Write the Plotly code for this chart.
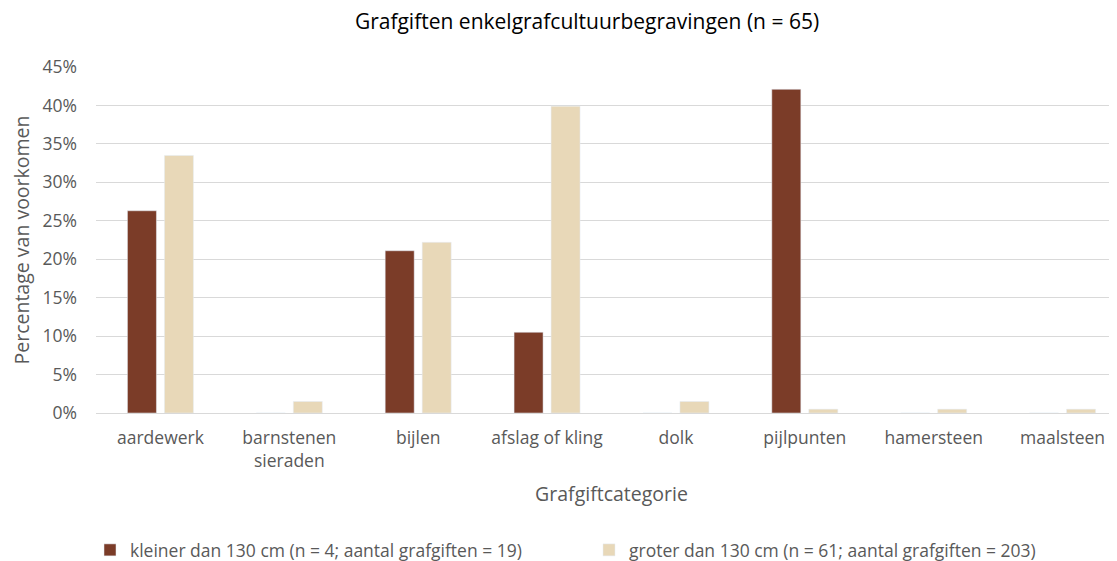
import plotly.graph_objects as go

categories = ["aardewerk", "barnstenen<br>sieraden", "bijlen", "afslag of kling", "dolk",
              "pijlpunten", "hamersteen", "maalsteen"]
kleiner = [26.3, 0, 21.1, 10.5, 0, 42.1, 0, 0]
groter = [33.5, 1.5, 22.2, 39.9, 1.5, 0.5, 0.5, 0.5]
name_kleiner = "kleiner dan 130 cm (n = 4; aantal grafgiften = 19)"
name_groter = "groter dan 130 cm (n = 61; aantal grafgiften = 203)"
yticks = [0, 5, 10, 15, 20, 25, 30, 35, 40, 45]

# the page body has an 8px margin; the plot area runs past the right edge of the view
W, H = 1130, 553
font = "Open Sans, Noto Sans, sans-serif"
fig = go.Figure()
fig.add_trace(go.Bar(x=categories, y=kleiner, name=name_kleiner, marker_color="#7B3C28",
                     legend="legend"))
fig.add_trace(go.Bar(x=categories, y=groter, name=name_groter, marker_color="#E8D8B8",
                     legend="legend2"))

leg_common = dict(orientation="h", xref="container", yref="container", xanchor="left",
                  yanchor="middle", y=1 - 542 / H, itemwidth=30,
                  font=dict(size=17.5, color="#595959"), bgcolor="rgba(0,0,0,0)")
fig.update_layout(
    width=W, height=H,
    margin=dict(l=88, r=11, t=59, b=148, autoexpand=False),
    paper_bgcolor="white", plot_bgcolor="white",
    font=dict(family=font, color="#595959", size=17),
    title=dict(text="Grafgiften enkelgrafcultuurbegravingen (n = 65)", xref="container",
               x=579 / W, xanchor="center",
               yref="container", y=1 - 14 / H, yanchor="middle", font=dict(size=21, color="#000000")),
    barmode="group", bargap=0.426, bargroupgap=0.216,
    legend=dict(x=82 / W, **leg_common),
    legend2=dict(x=581 / W, **leg_common),
    showlegend=True,
)
fig.update_xaxes(title=dict(text="Grafgiftcategorie", font=dict(size=19.5, color="#595959"), standoff=16),
                 automargin=False,
                 showline=True, linecolor="#d9d9d9", linewidth=1, ticks="", ticklabelstandoff=9,
                 tickfont=dict(size=17.5, color="#595959"))
fig.update_yaxes(title=dict(text="Percentage van voorkomen", font=dict(size=19.5, color="#595959"), standoff=30),
                 automargin=False,
                 range=[0, 45], tickvals=yticks, ticktext=[f"{v}%" for v in yticks],
                 showgrid=True, gridcolor="#d9d9d9", zeroline=False, ticks="", ticklabelstandoff=18,
                 tickfont=dict(size=17.5, color="#595959"))
fig.write_html("out.html")
